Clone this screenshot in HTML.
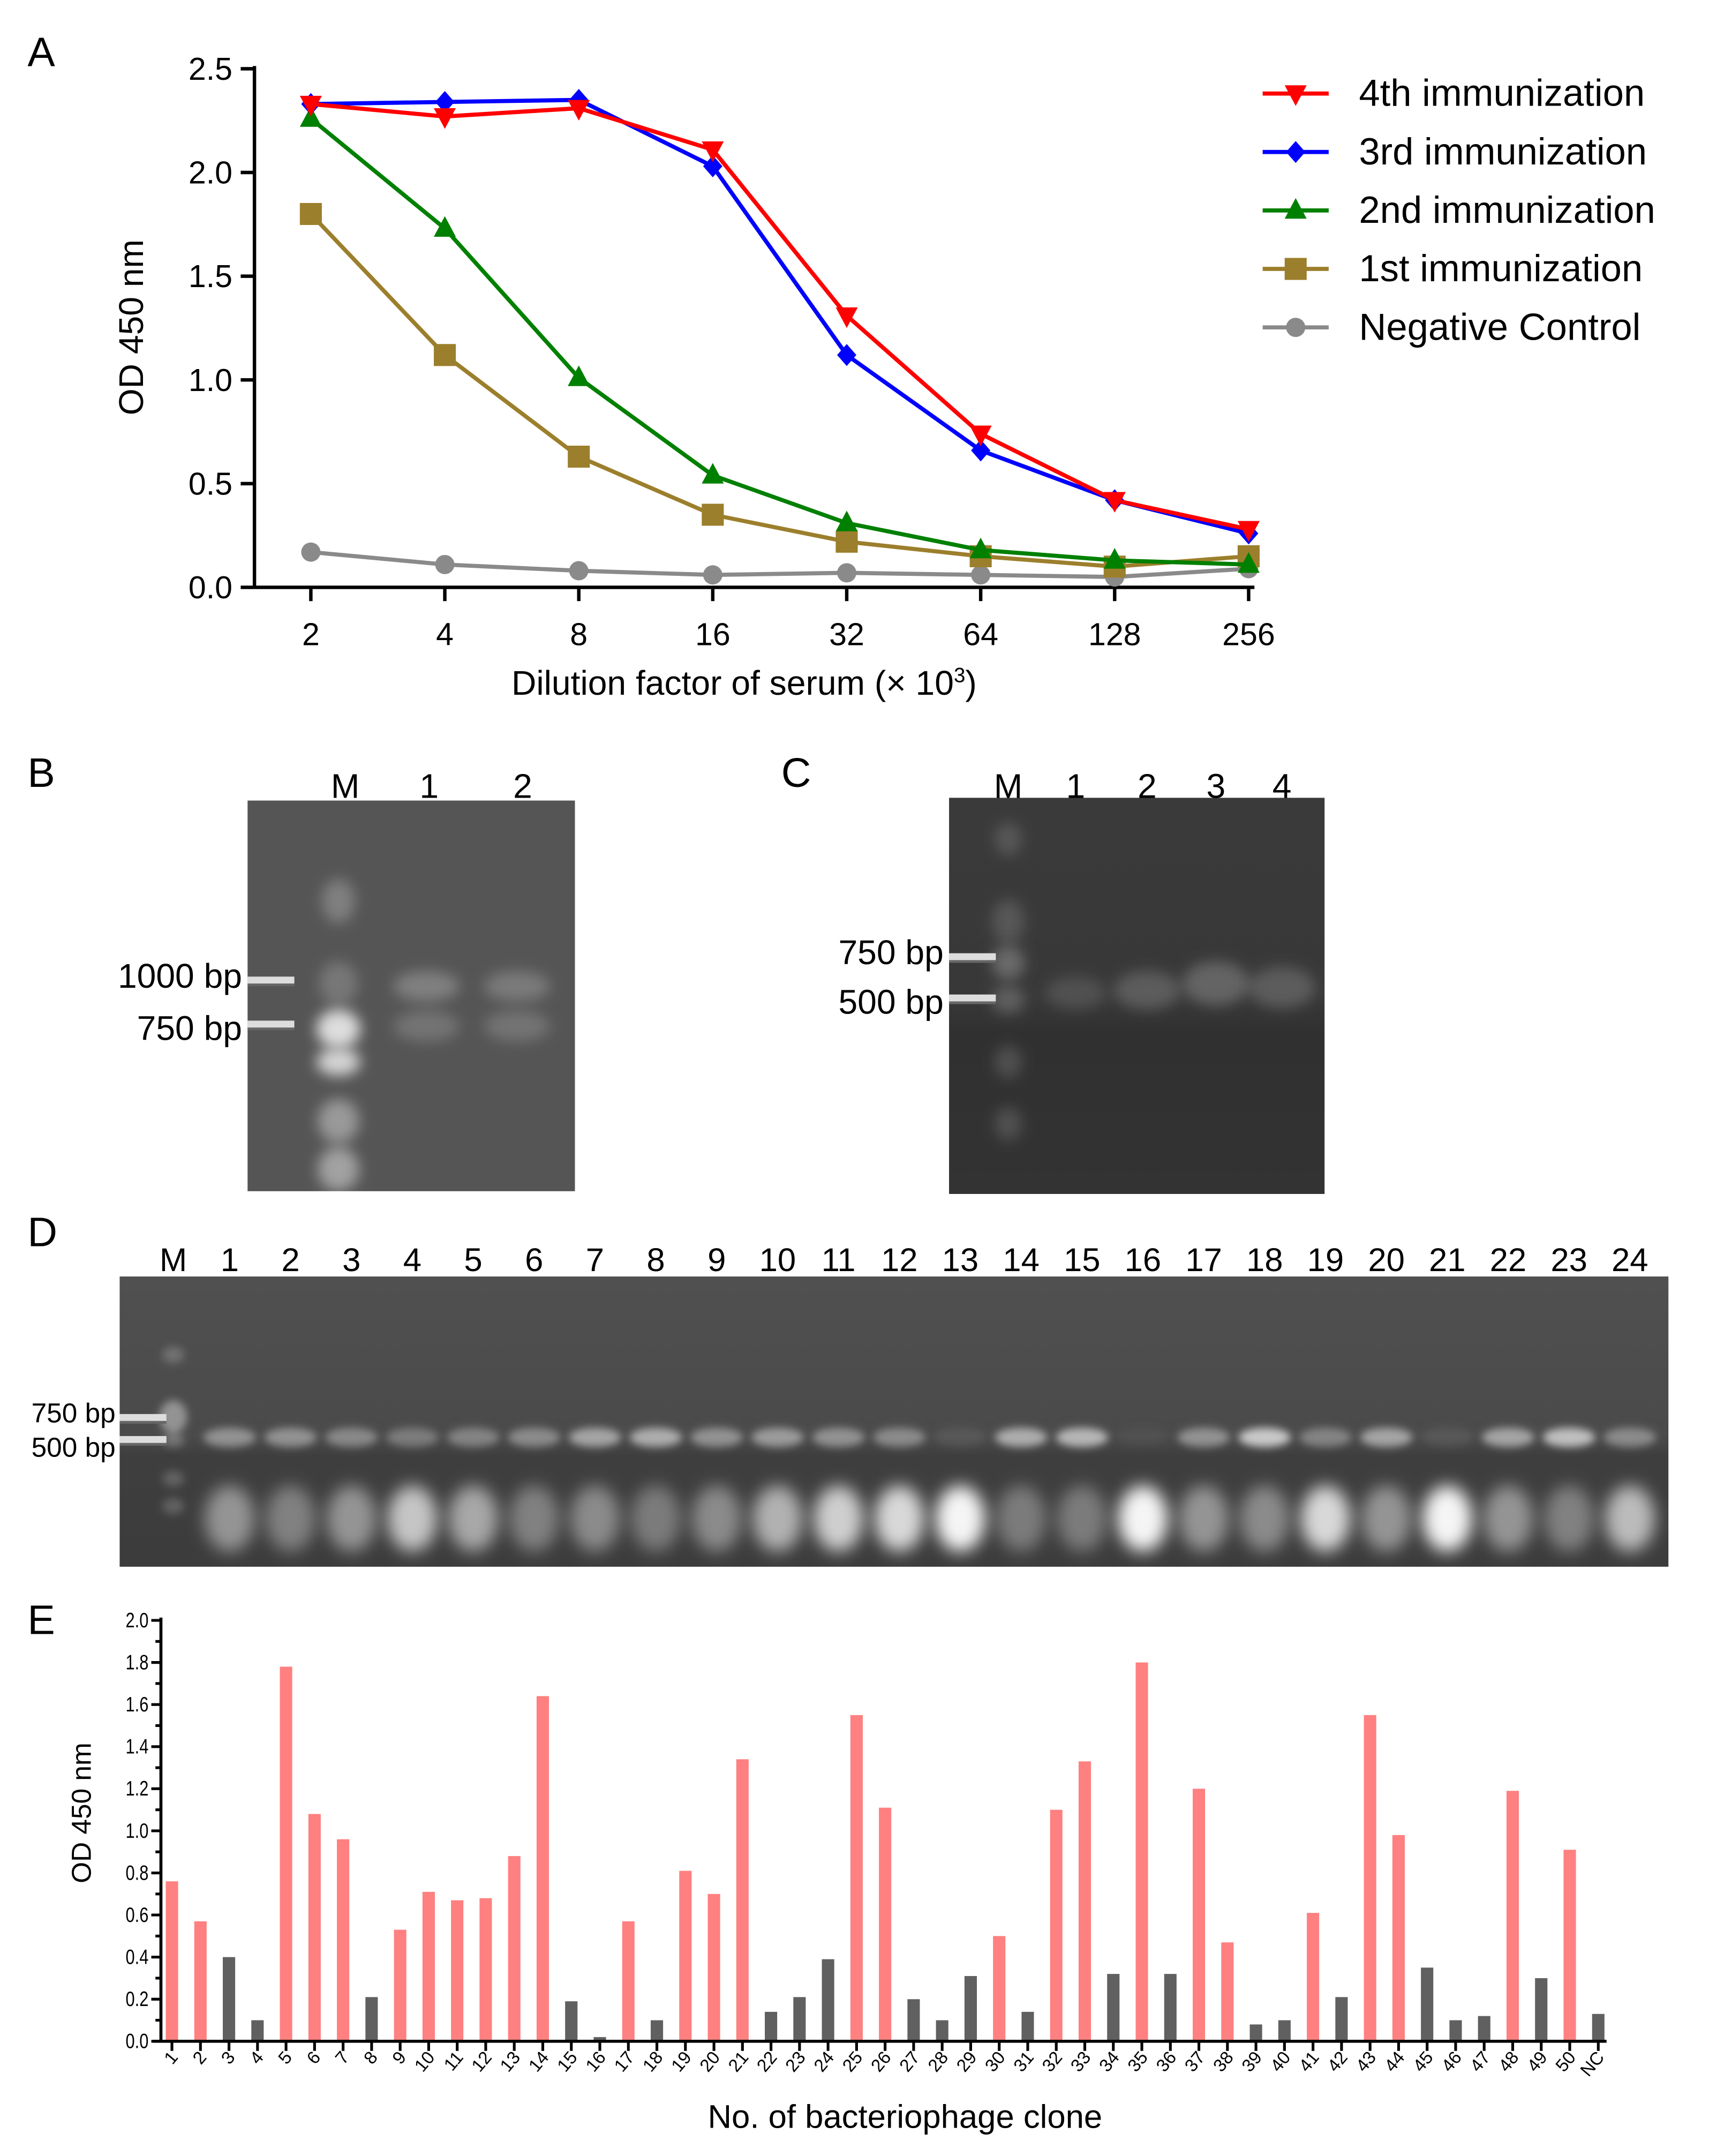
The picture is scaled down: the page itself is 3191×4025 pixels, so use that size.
<!DOCTYPE html>
<html><head><meta charset="utf-8"><style>
html,body{margin:0;padding:0;background:#fff;}
svg{display:block;font-family:"Liberation Sans",sans-serif;}
</style></head><body>
<svg id="fig" xmlns="http://www.w3.org/2000/svg" width="3191" height="4025" viewBox="0 0 1242.5 1567.4" preserveAspectRatio="none">
<defs>
<filter id="blur3" x="-50%" y="-50%" width="200%" height="200%"><feGaussianBlur stdDeviation="3"/></filter>
<filter id="blur5" x="-50%" y="-50%" width="200%" height="200%"><feGaussianBlur stdDeviation="5"/></filter>
<filter id="blur6" x="-50%" y="-50%" width="200%" height="200%"><feGaussianBlur stdDeviation="6"/></filter>
<linearGradient id="gD" x1="0" y1="0" x2="0" y2="1">
<stop offset="0" stop-color="#505050"/><stop offset="0.55" stop-color="#4a4a4a"/><stop offset="0.62" stop-color="#3e3e3e"/><stop offset="1" stop-color="#3c3c3c"/>
</linearGradient>
<linearGradient id="gC" x1="0" y1="0" x2="0" y2="1">
<stop offset="0" stop-color="#3a3a3a"/><stop offset="0.5" stop-color="#383838"/><stop offset="0.6" stop-color="#303030"/><stop offset="1" stop-color="#333"/>
</linearGradient>
</defs>
<rect width="1243" height="1568" fill="#fff"/>
<text x="20" y="48" font-size="30">A</text>
<text x="20" y="572" font-size="30">B</text>
<text x="568" y="572" font-size="30">C</text>
<text x="20" y="906" font-size="30">D</text>
<text x="20" y="1188" font-size="30">E</text>
<g id="chartA"></g>
<g id="gelB"></g>
<g id="gelC"></g>
<g id="gelD"></g>
<g id="chartE"></g>
</svg>
<script>
const NS="http://www.w3.org/2000/svg";
function mk(parent,tag,attrs,text){const e=document.createElementNS(NS,tag);for(const k in attrs)e.setAttribute(k,attrs[k]);if(text!==undefined)e.textContent=text;parent.appendChild(e);return e;}

// ---------- Panel A data ----------
const dilutions=["2","4","8","16","32","64","128","256"];
const s4th=[2.33,2.27,2.31,2.11,1.31,0.74,0.42,0.28];
const s3rd=[2.33,2.34,2.35,2.03,1.12,0.66,0.42,0.26];
const s2nd=[2.26,1.73,1.01,0.54,0.31,0.18,0.13,0.11];
const s1st=[1.80,1.12,0.63,0.35,0.22,0.15,0.10,0.15];
const sNC=[0.17,0.11,0.08,0.06,0.07,0.06,0.05,0.09];
const seriesNames=["4th immunization","3rd immunization","2nd immunization","1st immunization","Negative Control"];
const yTicksA=[0,0.5,1.0,1.5,2.0,2.5];

// ---------- Panel E data ----------
const clones=["1","2","3","4","5","6","7","8","9","10","11","12","13","14","15","16","17","18","19","20","21","22","23","24","25","26","27","28","29","30","31","32","33","34","35","36","37","38","39","40","41","42","43","44","45","46","47","48","49","50","NC"];
const odValues=[0.76,0.57,0.40,0.10,1.78,1.08,0.96,0.21,0.53,0.71,0.67,0.68,0.88,1.64,0.19,0.02,0.57,0.10,0.81,0.70,1.34,0.14,0.21,0.39,1.55,1.11,0.20,0.10,0.31,0.50,0.14,1.10,1.33,0.32,1.80,0.32,1.20,0.47,0.08,0.10,0.61,0.21,1.55,0.98,0.35,0.10,0.12,1.19,0.30,0.91,0.13];
const positive=[1,1,0,0,1,1,1,0,1,1,1,1,1,1,0,0,1,0,1,1,1,0,0,0,1,1,0,0,0,1,0,1,1,0,1,0,1,1,0,0,1,0,1,1,0,0,0,1,0,1,0];
const yTicksE=[0,0.2,0.4,0.6,0.8,1.0,1.2,1.4,1.6,1.8,2.0];

// ---------- Chart A ----------
(function(){
const g=document.getElementById('chartA');
const x0=185,x1=912,yb=427,yt=50;
const xA=i=>226+i*97.4;
const yA=v=>yb-(v/2.5)*(yb-yt);
let e;
e=mk(g,'line',{x1:x0,y1:yt-2,x2:x0,y2:yb,stroke:'#000','stroke-width':2.5});

e=mk(g,'line',{x1:x0,y1:yb,x2:x1,y2:yb,stroke:'#000','stroke-width':2.5});

yTicksA.forEach(v=>{
 mk(g,'line',{x1:x0-10,y1:yA(v),x2:x0,y2:yA(v),stroke:'#000','stroke-width':2.5});
 e=mk(g,'text',{x:x0-16,y:yA(v)+8,'font-size':23,'text-anchor':'end'},v.toFixed(1));
 
});
dilutions.forEach((d,i)=>{
 mk(g,'line',{x1:xA(i),y1:yb,x2:xA(i),y2:yb+10,stroke:'#000','stroke-width':2.5});
 e=mk(g,'text',{x:xA(i),y:yb+42,'font-size':23,'text-anchor':'middle'},d);
 
});
e=mk(g,'text',{x:541,y:505,'font-size':25,'text-anchor':'middle'});
e.innerHTML='Dilution factor of serum (× 10<tspan font-size="15" dy="-9">3</tspan><tspan dy="9">)</tspan>';

e=mk(g,'text',{x:0,y:0,'font-size':25,'text-anchor':'middle',transform:'translate(104,238) rotate(-90)'},'OD 450 nm');

const series=[sNC,s1st,s2nd,s3rd,s4th];
const colors=['#8a8a8a','#9c7f2c','#008000','#0000ff','#ff0000'];
const markers=['circle','square','triUp','diamond','triDown'];
function marker(par,type,x,y,c){
 let m;
 if(type==='circle')m=mk(par,'circle',{cx:x,cy:y,r:7,fill:c});
 else if(type==='square')m=mk(par,'rect',{x:x-8,y:y-8,width:16,height:16,fill:c});
 else if(type==='triUp')m=mk(par,'polygon',{points:`${x},${y-9} ${x-8},${y+6} ${x+8},${y+6}`,fill:c});
 else if(type==='triDown')m=mk(par,'polygon',{points:`${x},${y+9} ${x-8},${y-6} ${x+8},${y-6}`,fill:c});
 else m=mk(par,'polygon',{points:`${x},${y-8} ${x+7},${y} ${x},${y+8} ${x-7},${y}`,fill:c});
 return m;
}
series.forEach((s,k)=>{
 const sg=mk(g,'g',{});
 
 
 const pts=s.map((v,i)=>xA(i)+','+yA(v)).join(' ');
 mk(sg,'polyline',{points:pts,fill:'none',stroke:colors[k],'stroke-width':3});
 s.forEach((v,i)=>{const m=marker(sg,markers[k],xA(i),yA(v),colors[k]);
  });
});
const legOrder=[4,3,2,1,0];
legOrder.forEach((k,j)=>{
 const y=68+j*42.5;
 const lg=mk(g,'g',{});
 
 
 mk(lg,'line',{x1:918,y1:y,x2:966,y2:y,stroke:colors[k],'stroke-width':3});
 marker(lg,markers[k],942,y,colors[k]);
 mk(lg,'text',{x:988,y:y+9,'font-size':27.5},seriesNames[4-k]);
});
})();

// ---------- Gels ----------
function band(g,cx,cy,rx,ry,op,blur){mk(g,'ellipse',{cx:cx,cy:cy,rx:rx,ry:ry,fill:'#fff','fill-opacity':op,filter:'url(#'+blur+')'});}
function marks(g,x,y){mk(g,'rect',{x:x,y:y-3,width:34,height:6,fill:'#ddd'});mk(g,'rect',{x:x,y:y+2,width:34,height:2,fill:'#666'});}
(function(){
const g=document.getElementById('gelB');
mk(g,'rect',{x:180,y:582,width:238,height:284,fill:'#555'});
[['M',251],['1',312],['2',380]].forEach(([t,x])=>{const e=mk(g,'text',{x:x,y:580,'font-size':25,'text-anchor':'middle'},t);});
band(g,246,655,12,16,0.25,'blur5');band(g,246,715,14,16,0.2,'blur5');
band(g,246,748,16,14,0.8,'blur5');band(g,246,772,16,10,0.75,'blur5');
band(g,246,815,15,16,0.4,'blur5');band(g,246,850,15,16,0.45,'blur5');
band(g,310,717,24,11,0.25,'blur5');band(g,310,746,24,11,0.18,'blur5');
band(g,376,717,24,11,0.22,'blur5');band(g,376,746,24,11,0.18,'blur5');
marks(g,180,713);marks(g,180,745);
let e=mk(g,'text',{x:176,y:718,'font-size':25,'text-anchor':'end'},'1000 bp');
e=mk(g,'text',{x:176,y:756,'font-size':25,'text-anchor':'end'},'750 bp');
})();
(function(){
const g=document.getElementById('gelC');
mk(g,'rect',{x:690,y:580,width:273,height:288,fill:'url(#gC)'});
[['M',733],['1',782],['2',834],['3',884],['4',932]].forEach(([t,x])=>{const e=mk(g,'text',{x:x,y:580,'font-size':25,'text-anchor':'middle'},t);});
band(g,733,610,10,12,0.15,'blur5');band(g,733,670,12,16,0.15,'blur5');band(g,733,700,12,12,0.25,'blur5');
band(g,733,727,12,10,0.2,'blur5');band(g,733,772,10,12,0.15,'blur5');band(g,733,817,10,12,0.15,'blur5');
band(g,782,722,22,12,0.12,'blur5');band(g,834,720,24,14,0.18,'blur5');band(g,884,715,24,16,0.22,'blur5');band(g,932,718,24,15,0.18,'blur5');
marks(g,690,696);marks(g,690,726);
let e=mk(g,'text',{x:686,y:701,'font-size':25,'text-anchor':'end'},'750 bp');
e=mk(g,'text',{x:686,y:737,'font-size':25,'text-anchor':'end'},'500 bp');
})();
(function(){
const g=document.getElementById('gelD');
mk(g,'rect',{x:87,y:928,width:1126,height:211,fill:'url(#gD)'});
let e=mk(g,'text',{x:126,y:924,'font-size':24,'text-anchor':'middle'},'M');
const bandI=[.4,.4,.35,.28,.32,.36,.5,.55,.4,.45,.4,.36,.08,.55,.6,.04,.4,.7,.32,.5,.08,.5,.65,.36];
const blobI=[.45,.35,.45,.7,.55,.35,.4,.32,.4,.6,.75,.8,.95,.32,.32,.95,.45,.4,.8,.45,.95,.45,.35,.65];
for(let i=0;i<24;i++){
 const x=167+i*44.26;
 e=mk(g,'text',{x:x,y:924,'font-size':24,'text-anchor':'middle'},String(i+1));
 
 band(g,x,1045,19,7,bandI[i],'blur3');
 band(g,x,1104,18,24,blobI[i],'blur6');
}
band(g,126,985,8,6,0.2,'blur3');band(g,126,1030,10,12,0.4,'blur3');band(g,126,1047,8,5,0.25,'blur3');
band(g,126,1075,8,6,0.18,'blur3');band(g,126,1095,8,6,0.18,'blur3');
marks(g,87,1031);marks(g,87,1047);
e=mk(g,'text',{x:84,y:1034,'font-size':20,'text-anchor':'end'},'750 bp');
e=mk(g,'text',{x:84,y:1059,'font-size':20,'text-anchor':'end'},'500 bp');
})();

// ---------- Chart E ----------
(function(){
const g=document.getElementById('chartE');
const x0=117,yb=1484,yt=1178;
const xE=i=>125+i*20.74;
const yE=v=>yb-(v/2.0)*(yb-yt);
let e;
odValues.forEach((v,i)=>{
 e=mk(g,'rect',{x:xE(i)-4.5,y:yE(v),width:9,height:yb-yE(v),fill:positive[i]?'#ff8080':'#606060'});
 
});
e=mk(g,'line',{x1:x0,y1:yt-2,x2:x0,y2:yb,stroke:'#000','stroke-width':2.2});

e=mk(g,'line',{x1:x0-6,y1:yb,x2:1168,y2:yb,stroke:'#000','stroke-width':2.2});

for(let k=0;k<=20;k++){const y=yE(k*0.1);mk(g,'line',{x1:x0-(k%2?4:7),y1:y,x2:x0,y2:y,stroke:'#000','stroke-width':2});}
yTicksE.forEach(v=>{
 e=mk(g,'text',{x:0,y:0,'font-size':15,'text-anchor':'end',transform:`translate(${x0-9},${yE(v)+5}) scale(0.8,1)`},v.toFixed(1));
 
});
clones.forEach((c,i)=>{
 mk(g,'line',{x1:xE(i),y1:yb,x2:xE(i),y2:yb+7,stroke:'#000','stroke-width':2});
 e=mk(g,'text',{x:0,y:0,'font-size':13,'text-anchor':'end',transform:`translate(${xE(i)+5},${yb+12}) rotate(-50)`},c);
 
});
e=mk(g,'text',{x:658,y:1547,'font-size':24,'text-anchor':'middle'},'No. of bacteriophage clone');

e=mk(g,'text',{x:0,y:0,'font-size':20,'text-anchor':'middle',transform:'translate(66,1318) rotate(-90)'},'OD 450 nm');

})();
</script>
</body></html>
